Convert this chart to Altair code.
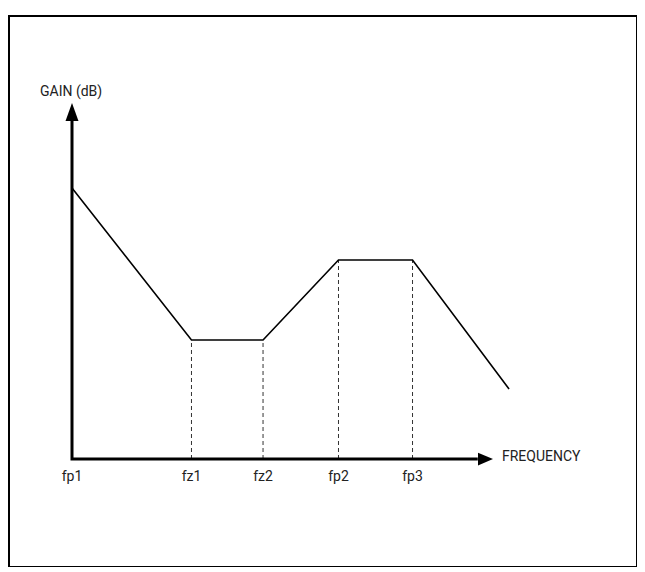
import altair as alt
import pandas as pd

# Breakpoint positions (log-frequency units) and gain (dB, arbitrary units)
labels = ["fp1", "fz1", "fz2", "fp2", "fp3"]
label_freq = [0.0, 1.593, 2.547, 3.553, 4.54]
label_gain = [54.2, 23.8, 23.8, 39.8, 39.8]

curve_freq = [0.0, 1.593, 2.547, 3.553, 4.54, 5.827]
curve_gain = [54.2, 23.8, 23.8, 39.8, 39.8, 14.0]

axis_freq = [0.0, 0.0, 5.41]
axis_gain = [67.6, 0.0, 0.0]

FONT = "Roboto, Liberation Sans, sans-serif"

xs = alt.Scale(domain=[-0.84, 7.533], nice=False, zero=False)
ys = alt.Scale(domain=[-21.6, 88.6], nice=False, zero=False)

curve_df = pd.DataFrame({"f": curve_freq, "g": curve_gain, "o": list(range(len(curve_freq)))})
axis_df = pd.DataFrame({"f": axis_freq, "g": axis_gain, "o": [0, 1, 2]})
lab_df = pd.DataFrame({"label": labels, "f": label_freq, "g": label_gain, "zero": [0.0] * 5, "ly": [-3.6] * 5})
drop_df = lab_df.iloc[1:]

X = lambda: alt.X("f:Q", scale=xs, axis=None)
Y = lambda: alt.Y("g:Q", scale=ys, axis=None)

axes = alt.Chart(axis_df).mark_line(color="black", strokeWidth=3, strokeJoin="miter").encode(
    x=X(), y=Y(), order="o:O")

arrow_df = pd.DataFrame({"f": [0.0, 5.513], "g": [69.4, 0.0], "k": ["up", "right"]})
arrow_up = alt.Chart(arrow_df[arrow_df.k == "up"]).mark_point(
    shape="M0,-1L0.72,1L-0.72,1Z", filled=True, color="black", size=324, opacity=1).encode(x=X(), y=Y())
arrow_right = alt.Chart(arrow_df[arrow_df.k == "right"]).mark_point(
    shape="M1,0L-1,0.85L-1,-0.85Z", filled=True, color="black", size=225, opacity=1).encode(x=X(), y=Y())

drops = alt.Chart(drop_df).mark_rule(color="#333333", strokeWidth=1, strokeDash=[4, 3]).encode(
    x=X(), y=alt.Y("zero:Q", scale=ys, axis=None), y2="g:Q")

curve = alt.Chart(curve_df).mark_line(color="black", strokeWidth=1.6).encode(x=X(), y=Y(), order="o:O")

ticklabels = alt.Chart(lab_df).mark_text(font=FONT, fontSize=14, color="#222222", baseline="middle").encode(
    x=X(), y=alt.Y("ly:Q", scale=ys, axis=None), text="label:N")

title_df = pd.DataFrame({"f": [5.733, -0.4267], "g": [0.5, 73.5], "t": ["FREQUENCY", "GAIN (dB)"]})
titles = alt.Chart(title_df).mark_text(font=FONT, fontSize=14, color="#222222", baseline="middle", align="left").encode(
    x=X(), y=Y(), text="t:N")

chart = alt.layer(drops, axes, arrow_up, arrow_right, curve, ticklabels, titles).properties(
    width=628, height=551,
    autosize=alt.AutoSizeParams(type="none"),
    padding={"left": 1, "top": 8, "right": 0, "bottom": 0},
    background="white",
).configure_view(stroke="black", strokeWidth=2)

chart.save("out.html", embed_options={"renderer": "svg", "actions": False})
